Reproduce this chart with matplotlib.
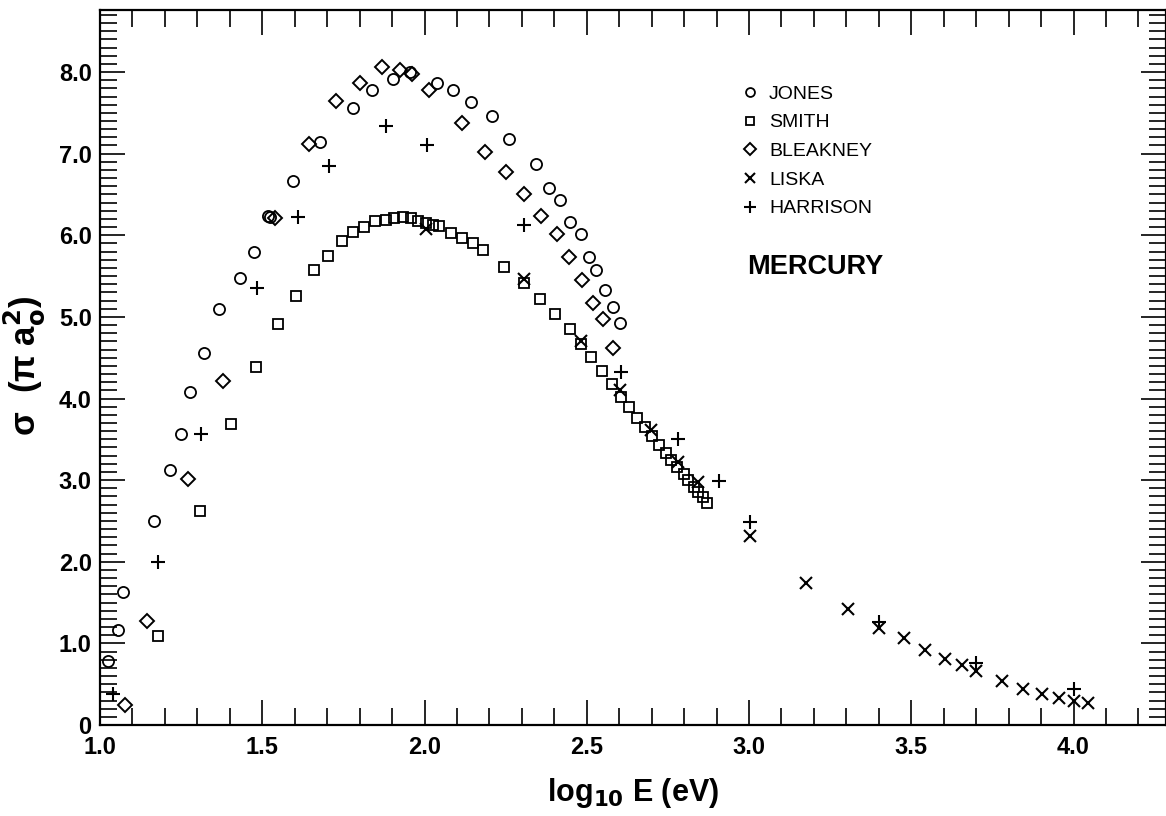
import matplotlib.pyplot as plt
from matplotlib.ticker import MultipleLocator, FuncFormatter

# ionization cross section of mercury
jones_x = [1.025, 1.054, 1.070, 1.166, 1.215, 1.251, 1.278, 1.319, 1.366, 1.430, 1.476, 1.517,
           1.525, 1.594, 1.678, 1.780, 1.837, 1.902, 1.954, 2.039, 2.087, 2.144, 2.208, 2.259,
           2.344, 2.385, 2.419, 2.448, 2.482, 2.508, 2.528, 2.557, 2.580, 2.603]
jones_y = [0.78, 1.17, 1.63, 2.50, 3.13, 3.56, 4.08, 4.56, 5.10, 5.48, 5.79, 6.24,
           6.23, 6.67, 7.14, 7.56, 7.78, 7.92, 8.00, 7.87, 7.78, 7.63, 7.46, 7.18,
           6.87, 6.58, 6.43, 6.16, 6.02, 5.73, 5.58, 5.33, 5.12, 4.92]

smith_x = [1.180, 1.307, 1.403, 1.482, 1.550, 1.604, 1.661, 1.704, 1.746, 1.781,
           1.815, 1.848, 1.881, 1.907, 1.933, 1.958, 1.981, 2.005, 2.025, 2.046,
           2.082, 2.116, 2.150, 2.181, 2.244, 2.306, 2.356, 2.403, 2.447, 2.482,
           2.513, 2.546, 2.578, 2.606, 2.631, 2.655, 2.680, 2.701, 2.724, 2.744,
           2.760, 2.778, 2.799, 2.813, 2.830, 2.844, 2.857, 2.872]
smith_y = [1.09, 2.62, 3.69, 4.39, 4.91, 5.26, 5.57, 5.74, 5.93, 6.04,
           6.10, 6.17, 6.19, 6.215, 6.22, 6.21, 6.18, 6.15, 6.13, 6.11,
           6.03, 5.97, 5.90, 5.815, 5.61, 5.41, 5.22, 5.03, 4.855, 4.67,
           4.51, 4.34, 4.18, 4.02, 3.89, 3.765, 3.65, 3.535, 3.425, 3.33,
           3.25, 3.16, 3.08, 3.00, 2.92, 2.85, 2.79, 2.72]

bleakney_x = [1.077, 1.146, 1.272, 1.379, 1.538, 1.643, 1.727, 1.801, 1.868, 1.925, 1.960, 2.015,
              2.115, 2.186, 2.251, 2.308, 2.359, 2.408, 2.446, 2.484, 2.520, 2.549, 2.580]
bleakney_y = [0.25, 1.28, 3.02, 4.22, 6.21, 7.12, 7.64, 7.87, 8.06, 8.03, 7.98, 7.78,
              7.38, 7.02, 6.78, 6.50, 6.24, 6.02, 5.73, 5.45, 5.17, 4.98, 4.62]

liska_x = [2.005, 2.306, 2.482, 2.603, 2.698, 2.780, 2.844, 3.003, 3.177, 3.304, 3.402,
           3.479, 3.543, 3.605, 3.655, 3.700, 3.780, 3.844, 3.904, 3.956, 4.002, 4.046]
liska_y = [6.08, 5.47, 4.70, 4.10, 3.61, 3.22, 2.975, 2.31, 1.74, 1.42, 1.19,
           1.06, 0.92, 0.81, 0.74, 0.66, 0.545, 0.44, 0.38, 0.333, 0.30, 0.27]

harrison_x = [1.041, 1.180, 1.311, 1.484, 1.610, 1.705, 1.881, 2.007, 2.308, 2.606,
              2.780, 2.908, 3.003, 3.402, 3.700, 4.002]
harrison_y = [0.38, 2.00, 3.56, 5.36, 6.23, 6.85, 7.34, 7.11, 6.12, 4.32,
              3.50, 2.99, 2.49, 1.26, 0.76, 0.44]

plain = ['Liberation Sans', 'DejaVu Sans']

fig = plt.figure(figsize=(11.66, 8.16), dpi=100)
ax = fig.add_axes([100 / 1166, 1 - 725 / 816, 1066 / 1166, 715 / 816])

style = dict(linestyle='none', color='black', mfc='none', mec='black')
ax.plot(jones_x, jones_y, marker='o', ms=8, mew=1.3, label='JONES', **style)
ax.plot(smith_x, smith_y, marker='s', ms=7.5, mew=1.3, label='SMITH', **style)
ax.plot(bleakney_x, bleakney_y, marker='D', ms=7.5, mew=1.4, label='BLEAKNEY', **style)
ax.plot(liska_x, liska_y, marker='x', ms=8.5, mew=1.5, label='LISKA', **style)
ax.plot(harrison_x, harrison_y, marker='+', ms=10.5, mew=1.5, label='HARRISON', **style)

ax.set_xlim(1.0, 4.285)
ax.set_ylim(0, 8.76)

ax.xaxis.set_major_locator(MultipleLocator(0.5))
ax.xaxis.set_minor_locator(MultipleLocator(0.1))
ax.yaxis.set_major_locator(MultipleLocator(1.0))
ax.yaxis.set_minor_locator(MultipleLocator(0.1))
ax.yaxis.set_major_formatter(FuncFormatter(lambda v, p: '0' if abs(v) < 1e-9 else '%.1f' % v))
ax.xaxis.set_major_formatter(FuncFormatter(lambda v, p: '%.1f' % v))

ax.tick_params(which='both', direction='in', top=True, right=True, width=1.2, colors='black')
ax.tick_params(which='major', length=18, labelsize=17)
ax.tick_params(axis='x', which='major', pad=8)
ax.tick_params(axis='y', which='major', pad=6)
ax.tick_params(which='minor', length=12)
for lab in ax.get_xticklabels() + ax.get_yticklabels():
    lab.set_family(plain)
    lab.set_fontweight('bold')

for s in ax.spines.values():
    s.set_linewidth(1.6)

ax.set_xlabel(r'log$_{\mathbf{10}}$ E (eV)', fontsize=22, fontweight='bold', family=plain)
ax.xaxis.set_label_coords(0.50, -0.072)
ax.set_ylabel(r'σ  (π a$_{\mathbf{o}}^{\mathbf{2}}$)', fontsize=25, fontweight='bold', family=plain)
ax.yaxis.set_label_coords(-0.050, 0.502)

leg = ax.legend(loc='upper left', bbox_to_anchor=(0.602, 0.895), frameon=False,
                handlelength=0.8, handletextpad=0.6, labelspacing=0.57,
                borderpad=0, borderaxespad=0, markerscale=0.8,
                prop={'family': plain, 'size': 14})

ax.text(0.607, 0.641, 'MERCURY', transform=ax.transAxes, fontsize=19.5,
        fontweight='bold', family=plain, va='center', ha='left')

fig.savefig('out.png', dpi=100)
